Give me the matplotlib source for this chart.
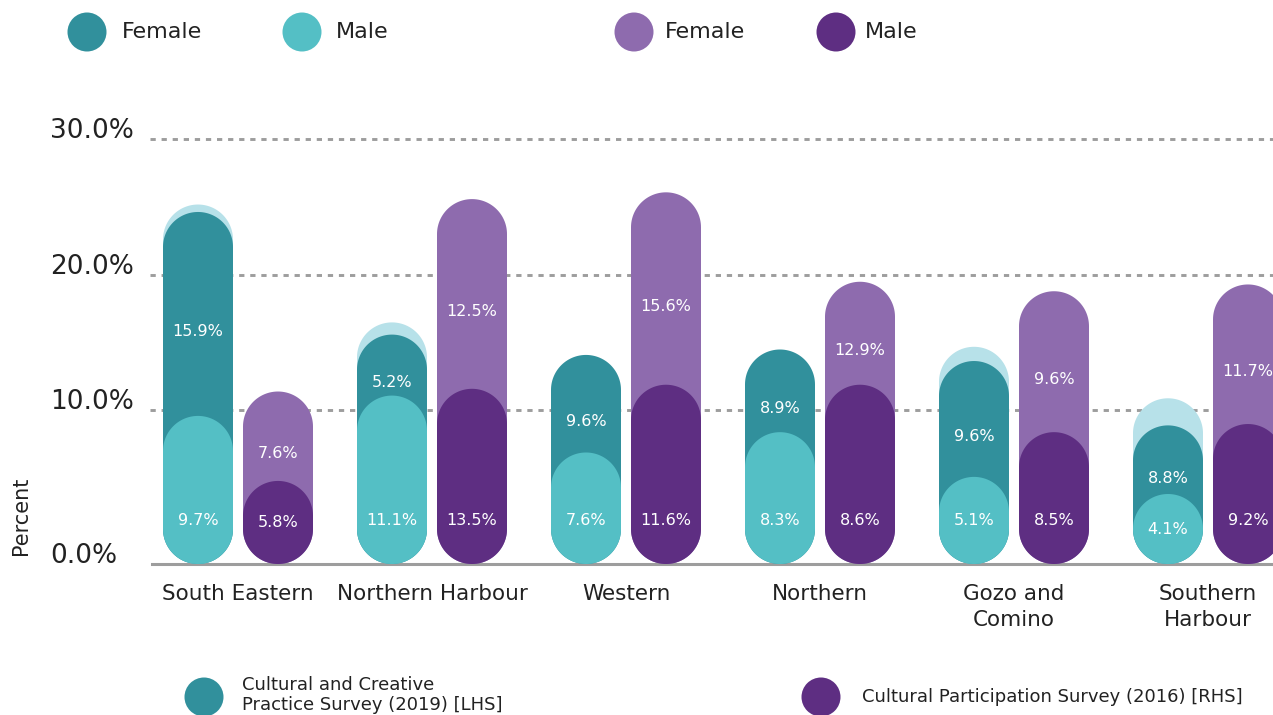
import numpy as np
import matplotlib
matplotlib.use('Agg')
import matplotlib.pyplot as plt
from matplotlib.patches import Polygon, Ellipse
from matplotlib.transforms import blended_transform_factory

# --------------------------------------------------
# Data (percent labels as printed, bar tops)
# --------------------------------------------------
regions = ["South Eastern", "Northern Harbour", "Western", "Northern",
           "Gozo and\nComino", "Southern\nHarbour"]

ccps_female = [15.9, 5.2, 9.6, 8.9, 9.6, 8.8]
ccps_male = [9.7, 11.1, 7.6, 8.3, 5.1, 4.1]
cps_female = [7.6, 12.5, 15.6, 12.9, 9.6, 11.7]
cps_male = [5.8, 13.5, 11.6, 8.6, 8.5, 9.2]

ccps_male_top = [9.6, 11.1, 6.9, 8.4, 5.1, 3.7]
ccps_female_top = [24.65, 15.6, 14.1, 14.5, 13.65, 8.9]
ccps_total_top = [25.2, 16.5, None, None, 14.7, 10.9]
cps_male_top = [4.8, 11.6, 11.9, 11.9, 8.4, 9.0]
cps_female_top = [11.4, 25.6, 26.1, 19.5, 18.8, 19.3]

yticks = [0, 10, 20, 30]

# colours
TEAL_DARK = '#31909c'
TEAL_LIGHT = '#54bfc5'
TEAL_PALE = '#b7e1e9'
PURPLE_LIGHT = '#8e6bae'
PURPLE_DARK = '#5e2e82'
GRID = '#9d9d9d'
TEXT = '#222222'

W, H = 1273, 715
plt.rcParams['font.family'] = ['DejaVu Sans']

fig = plt.figure(figsize=(W / 100, H / 100), dpi=100)

# axes placed in pixel units
ax_l, ax_r, ax_t, ax_b = 150, 1273, 100, 564
ax = fig.add_axes([ax_l / W, 1 - ax_b / H, (ax_r - ax_l) / W, (ax_b - ax_t) / H])

px_per_pct = 13.55
px_per_group = 194.0
y0 = -1.33  # baseline sits a little below zero
ax.set_ylim(y0, y0 + (ax_b - ax_t) / px_per_pct)
ax.set_xlim(-(238 - ax_l) / px_per_group, (W - 238) / px_per_group)
ax.axis('off')

rx = 35 / px_per_group   # half bar width in x data units
ry = 35 / px_per_pct     # same radius in y data units
off = 40 / px_per_group  # offset of each survey from group centre


def pill(cx, top, color, z):
    top = max(top, y0 + 2 * ry)
    t = np.linspace(0, np.pi, 60)
    upper = np.column_stack([cx + rx * np.cos(t), top - ry + ry * np.sin(t)])
    lower = np.column_stack([cx - rx * np.cos(t), y0 + ry - ry * np.sin(t)])
    ax.add_patch(Polygon(np.vstack([upper, lower]), closed=True,
                         fc=color, ec='none', zorder=z))


# gridlines + baseline
for v in yticks[1:]:
    ax.axhline(v, color=GRID, lw=2.1, ls=(0, (1.8, 2.0)), zorder=1)
ax.axhline(y0, color=GRID, lw=2.2, zorder=1, xmin=0.002, clip_on=False)

for i in range(len(regions)):
    xt, xp = i - off, i + off
    if ccps_total_top[i] is not None:
        pill(xt, ccps_total_top[i], TEAL_PALE, 2)
    pill(xt, ccps_female_top[i], TEAL_DARK, 3)
    pill(xt, ccps_male_top[i], TEAL_LIGHT, 4)
    pill(xp, cps_female_top[i], PURPLE_LIGHT, 3)
    pill(xp, cps_male_top[i], PURPLE_DARK, 4)

    # value labels
    for x, ftop, mtop, fval, mval in [
            (xt, ccps_female_top[i], ccps_male_top[i], ccps_female[i], ccps_male[i]),
            (xp, cps_female_top[i], cps_male_top[i], cps_female[i], cps_male[i])]:
        yf = (mtop - ry + ftop) / 2
        ym = min(1.85, (y0 + mtop) / 2)
        ax.text(x, yf, f'{fval:.1f}%', color='white', fontsize=11.5,
                ha='center', va='center', zorder=6)
        ax.text(x, ym, f'{mval:.1f}%', color='white', fontsize=11.5,
                ha='center', va='center', zorder=6)

    # category label
    ax.text(i, y0 - 20 / px_per_pct, regions[i], ha='center', va='top',
            fontsize=15.5, color=TEXT, linespacing=1.35, clip_on=False)

# y tick labels (sit just above each line)
ytrans = blended_transform_factory(fig.transFigure, ax.transData)
for v in yticks:
    yv = y0 if v == 0 else v
    ax.text(50 / W, yv + 8 / px_per_pct, f'{v:.1f}%', transform=ytrans,
            fontsize=19, color=TEXT, ha='left', va='center', clip_on=False)
fig.text(21 / W, 1 - 516 / H, 'Percent', rotation=90, fontsize=15,
         color=TEXT, ha='center', va='center')


def fx(px):
    return px / W


def fy(py):
    return 1 - py / H


def dot(cx, cy, color, d=39):
    fig.add_artist(Ellipse((fx(cx), fy(cy)), d / W, d / H, fc=color, ec='none'))


# top legend
for cx, tx, cy, col, lab in [(87, 122, 32, TEAL_DARK, 'Female'),
                             (302, 336, 32, TEAL_LIGHT, 'Male'),
                             (634, 665, 32, PURPLE_LIGHT, 'Female'),
                             (836, 865, 32, PURPLE_DARK, 'Male')]:
    dot(cx, cy, col)
    fig.text(fx(tx), fy(cy), lab, fontsize=16, color=TEXT, ha='left', va='center')

# bottom legend
dot(204, 697, TEAL_DARK)
fig.text(fx(242), fy(695), 'Cultural and Creative\nPractice Survey (2019) [LHS]',
         fontsize=13, color=TEXT, ha='left', va='center', linespacing=1.2)
dot(821, 697, PURPLE_DARK)
fig.text(fx(862), fy(697), 'Cultural Participation Survey (2016) [RHS]',
         fontsize=13, color=TEXT, ha='left', va='center')

fig.savefig('out.png', dpi=100)
